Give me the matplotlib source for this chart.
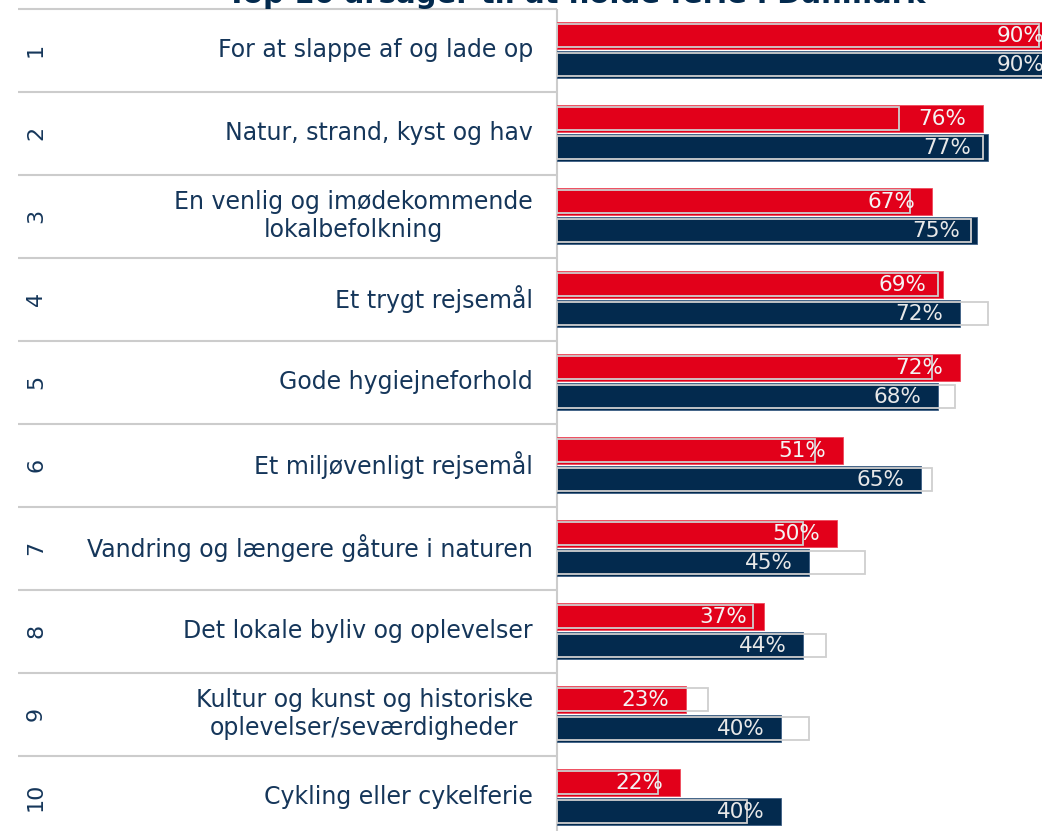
import numpy as np
import matplotlib.pyplot as plt

# data
ranks = ['1', '2', '3', '4', '5', '6', '7', '8', '9', '10']
labels = [
    'For at slappe af og lade op',
    'Natur, strand, kyst og hav',
    'En venlig og imødekommende\nlokalbefolkning',
    'Et trygt rejsemål',
    'Gode hygiejneforhold',
    'Et miljøvenligt rejsemål',
    'Vandring og længere gåture i naturen',
    'Det lokale byliv og oplevelser',
    'Kultur og kunst og historiske\noplevelser/seværdigheder',
    'Cykling eller cykelferie',
]
red_vals = [90, 76, 67, 69, 72, 51, 50, 37, 23, 22]
navy_vals = [90, 77, 75, 72, 68, 65, 45, 44, 40, 40]
red_prev = [86, 61, 63, 68, 67, 46, 44, 35, 27, 18]
navy_prev = [89, 76, 74, 77, 71, 67, 55, 48, 45, 34]

RED = '#e2001a'
NAVY = '#032a4e'
TXT = '#15365a'
GRID = '#cccccc'

plt.rcParams['font.family'] = ['DejaVu Sans']

fig = plt.figure(figsize=(10.42, 8.31), dpi=100)
ax = fig.add_axes([0, 0, 1, 1])

px = 5.6          # pixels per percent
x0 = 557          # pixel position of zero
row_px = 83.0
top_px = 8.7
ax.set_xlim(-x0 / px, (1042 - x0) / px)
ymin = -0.5 - top_px / row_px
ax.set_ylim(ymin + 831 / row_px, ymin)
ax.axis('off')

y = np.arange(len(ranks))
off = 0.175
h = 0.325

ax.barh(y - off, red_vals, height=h, color=RED, edgecolor='#ee4a5c', lw=0.6, zorder=2)
ax.barh(y + off, navy_vals, height=h, color=NAVY, edgecolor='#3d5f85', lw=0.6, zorder=2)
ax.barh(y - off, red_prev, height=h - 0.05, facecolor='none', edgecolor='#cfcfcf', lw=1.3, zorder=3)
ax.barh(y + off, navy_prev, height=h - 0.05, facecolor='none', edgecolor='#cfcfcf', lw=1.3, zorder=3)

for i in range(len(ranks)):
    ax.annotate(f'{red_vals[i]}%', (red_vals[i], y[i] - off), xytext=(-12, 0),
                textcoords='offset points', ha='right', va='center',
                color='#f4f4f4', fontsize=15.5, zorder=4, annotation_clip=False)
    ax.annotate(f'{navy_vals[i]}%', (navy_vals[i], y[i] + off), xytext=(-12, 0),
                textcoords='offset points', ha='right', va='center',
                color='#e8e8e8', fontsize=15.5, zorder=4, annotation_clip=False)
    ax.text(-24 / px, y[i], labels[i], ha='right', va='center', multialignment='center',
            color=TXT, fontsize=17, linespacing=1.2)
    ax.text(-(x0 - 36) / px, y[i], ranks[i], rotation=90, ha='center', va='center',
            color=TXT, fontsize=16)

# row separators and the axis line
seps = np.arange(len(ranks) + 1) - 0.5
ax.hlines(seps, -(x0 - 18) / px, 0, color=GRID, lw=1.5, zorder=1)
ax.vlines(0, seps[0], seps[-1] + 1, color=GRID, lw=1.5, zorder=1)

ax.text(-(x0 - 576) / px, ymin + 3 / row_px, 'Top 10 årsager til at holde ferie i Danmark',
        ha='center', va='baseline', color=NAVY, fontsize=21, fontweight='semibold')

fig.savefig('out.png', dpi=100)
